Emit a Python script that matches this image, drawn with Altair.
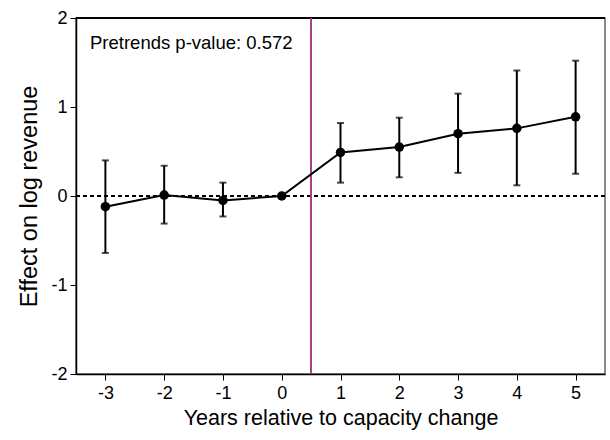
import altair as alt
import pandas as pd

years = [-3, -2, -1, 0, 1, 2, 3, 4, 5]
estimate = [-0.12, 0.01, -0.05, 0.0, 0.49, 0.55, 0.70, 0.76, 0.89]
ci_low = [-0.64, -0.31, -0.23, 0.0, 0.15, 0.21, 0.26, 0.12, 0.25]
ci_high = [0.40, 0.34, 0.15, 0.0, 0.82, 0.88, 1.15, 1.41, 1.52]
y_ticks = [-2, -1, 0, 1, 2]
annotation = "Pretrends p-value: 0.572"

df = pd.DataFrame({"year": years, "est": estimate, "lo": ci_low, "hi": ci_high})

FONT = "Liberation Sans"
xscale = alt.Scale(domain=[-3.5, 5.5], nice=False, zero=False)
yscale = alt.Scale(domain=[-2, 2], nice=False)

xaxis = alt.Axis(values=years, title="Years relative to capacity change",
                 labelExpr="'' + datum.value", labelPadding=4, titlePadding=5,
                 titleFontSize=21.5)
yaxis = alt.Axis(values=y_ticks, title="Effect on log revenue",
                 labelExpr="'' + datum.value", labelPadding=3, titlePadding=9,
                 titleFontSize=23.5)

base = alt.Chart(df)

zero = base.mark_rule(color="black", strokeDash=[4, 3], strokeWidth=1).encode(
    y=alt.datum(0, scale=yscale, axis=yaxis), x=alt.value(0), x2=alt.value(529))
top = base.mark_rule(color="black", strokeWidth=1.5).encode(
    y=alt.datum(2, scale=yscale, axis=yaxis), x=alt.value(0), x2=alt.value(529))
vline = base.mark_rule(color="#a2457f", strokeWidth=1).encode(
    x=alt.datum(0.5, scale=xscale, axis=xaxis), y=alt.value(0), y2=alt.value(356))

bars = base.mark_errorbar(ticks={"size": 7, "strokeWidth": 2, "color": "black"},
                          color="black", thickness=2).encode(
    x=alt.X("year:Q", scale=xscale, axis=xaxis),
    y=alt.Y("lo:Q", scale=yscale, axis=yaxis),
    y2="hi:Q")

line = base.mark_line(color="black", strokeWidth=2).encode(
    x=alt.X("year:Q", scale=xscale, axis=xaxis),
    y=alt.Y("est:Q", scale=yscale, axis=yaxis))

pts = base.mark_circle(color="black", opacity=1, size=90).encode(
    x=alt.X("year:Q", scale=xscale, axis=xaxis),
    y=alt.Y("est:Q", scale=yscale, axis=yaxis))

txt = alt.Chart(pd.DataFrame({"t": [annotation]})).mark_text(
    align="left", baseline="middle", font=FONT, color="black").encode(
    text="t:N", x=alt.value(14), y=alt.value(25), size=alt.value(18.5))

chart = alt.layer(zero, top, vline, bars, line, pts, txt).properties(
    width=529, height=356,
    autosize=alt.AutoSizeParams(type="none"),
    padding={"left": 76, "top": 18, "right": 5, "bottom": 66},
).configure(background="white").configure_view(
    stroke="#666666", strokeWidth=1.5
).configure_axis(
    grid=False, labelFontSize=18, labelFont=FONT, titleFont=FONT,
    titleFontWeight="normal", labelColor="black", titleColor="black",
    domainColor="black", tickColor="black", tickSize=6, domainWidth=1.5,
)

chart.save("out.html", embed_options={"renderer": "svg", "actions": False})
